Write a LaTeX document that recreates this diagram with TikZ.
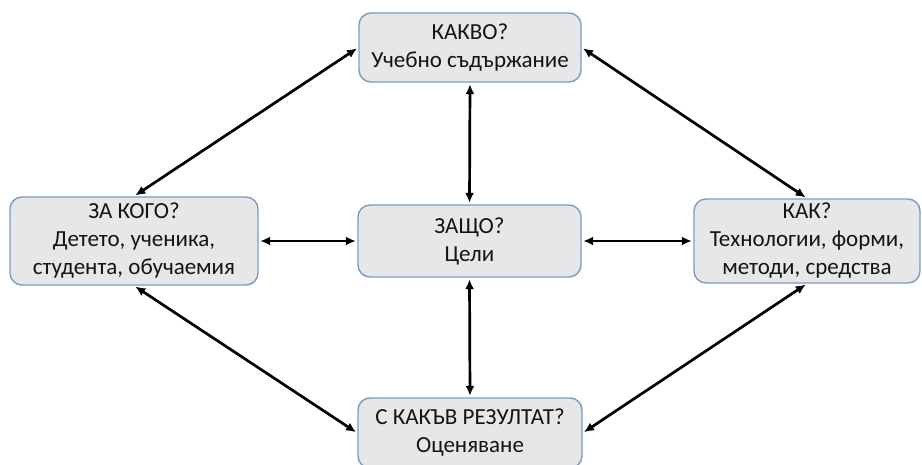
\documentclass[tikz,border=0pt]{standalone}
\usepackage{fontspec}
\setmainfont{Carlito}
\usetikzlibrary{arrows.meta}
\definecolor{boxfill}{RGB}{231,231,231}
\definecolor{boxline}{RGB}{122,156,196}
\definecolor{txt}{RGB}{20,20,20}
\begin{document}
\begin{tikzpicture}[x=1pt,y=-1pt,
  qbox/.style={draw=boxline,fill=boxfill,line width=1.4pt,rounded corners=12pt,
    align=center,inner sep=0pt,text=txt,
    font=\fontsize{23}{28}\selectfont},
  link/.style={line width=2.7pt,{Latex[length=10pt,width=9pt]}-{Latex[length=10pt,width=9pt]},shorten <=1.5pt,shorten >=1.5pt}]
\useasboundingbox (0,0) rectangle (922,464);
\node[qbox,minimum width=222pt,minimum height=69pt] (top) at (470,47.5) {КАКВО?\\Учебно съдържание};
\node[qbox,minimum width=248pt,minimum height=88pt] (left) at (134,241) {ЗА КОГО?\\Детето, ученика,\\студента, обучаемия};
\node[qbox,minimum width=223pt,minimum height=72pt] (center) at (469.5,241) {ЗАЩО?\\Цели};
\node[qbox,minimum width=226pt,minimum height=84pt] (right) at (807,241) {КАК?\\Технологии, форми,\\методи, средства};
\node[qbox,minimum width=224pt,minimum height=70pt] (bottom) at (470,433) {С КАКЪВ РЕЗУЛТАТ?\\Оценяване};
\draw[link] (top.west) -- (left.north);
\draw[link] (top.east) -- (right.north);
\draw[link] (left.south) -- (bottom.west);
\draw[link] (right.south) -- (bottom.east);
\draw[link] (left.east) -- (center.west);
\draw[link] (center.east) -- (right.west);
\draw[link] (top.south) -- (center.north);
\draw[link] (center.south) -- (bottom.north);
\end{tikzpicture}
\end{document}
